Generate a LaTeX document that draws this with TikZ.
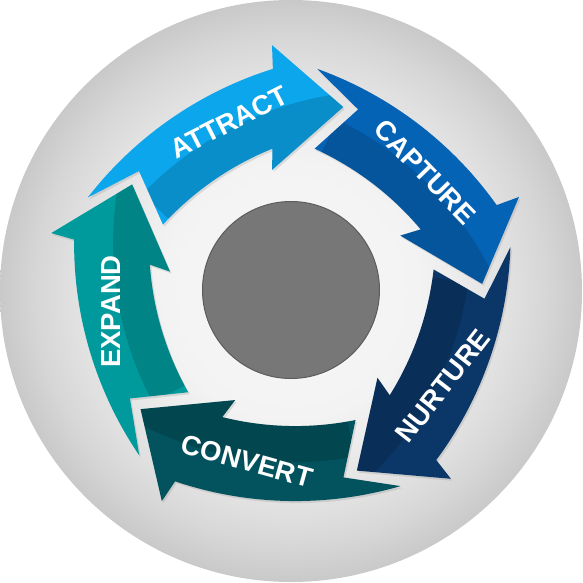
\documentclass[tikz,border=0pt]{standalone}
\usepackage{fontspec}
\setmainfont{Liberation Sans}
\usetikzlibrary{shadows}
\definecolor{cAttract}{HTML}{0BA6EC}
\definecolor{cCapture}{HTML}{0563B6}
\definecolor{cNurture}{HTML}{0B3768}
\definecolor{cConvert}{HTML}{03535E}
\definecolor{cExpand}{HTML}{009A9C}
\definecolor{cHub}{HTML}{777777}
\definecolor{cHubEdge}{HTML}{5C5C5C}
\definecolor{bgA}{HTML}{F8F8F8}
\definecolor{bgB}{HTML}{F3F3F3}
\definecolor{bgC}{HTML}{EAEAEA}
\definecolor{bgD}{HTML}{E0E0E0}
\definecolor{bgE}{HTML}{D6D6D6}
\definecolor{bgF}{HTML}{C9C9C9}
\pgfdeclareradialshading{bgshade}{\pgfpoint{0bp}{0bp}}{color(0bp)=(bgA); color(11bp)=(bgB); color(15bp)=(bgC); color(19bp)=(bgD); color(22bp)=(bgE); color(25bp)=(bgF); color(50bp)=(bgF)}
\newcommand{\cyclearrowshape}{(142.2:377) arc[start angle=142.2, end angle=107.4, radius=377] -- (106.5:400) -- (97.5:324.4) -- (113.7:282.5) -- (112:302) arc[start angle=112, end angle=137.5, radius=302] -- (133.75:356.6) -- cycle}
\tikzset{
  arrowbody/.style={fill=#1, drop shadow={shadow xshift=1.5pt, shadow yshift=-2pt, opacity=0.22}},
  steplabel/.style={text=white, inner sep=0pt, font=\fontsize{27.5}{27.5}\selectfont\bfseries},
  hub/.style={circle, fill=cHub, draw=cHubEdge, line width=1pt, minimum size=177pt, inner sep=0pt}
}
\begin{document}
\begin{tikzpicture}[x=1pt, y=1pt]
\useasboundingbox (-291,-292) rectangle (291,291);
\fill[white] (-291,-292) rectangle (291,291);
\shade[shading=bgshade] (0,0) circle (291);
\foreach \k/\c in {0/cAttract,1/cCapture,2/cNurture,3/cConvert,4/cExpand}{
  \begin{scope}[rotate=-72*\k, shift={(94.6,-137.6)}]
    \fill[arrowbody=\c] \cyclearrowshape;
    \begin{scope}
      \clip \cyclearrowshape;
      \fill[black, opacity=0.14] (0,0) -- (136:338) arc[start angle=136, end angle=90, radius=338] -- cycle;
    \end{scope}
  \end{scope}
}
\node[hub] (hubnode) at (0,1) {};
\node[steplabel, rotate=27] (attract) at (-62,169) {ATTRACT};
\node[steplabel, rotate=-46] (capture) at (134,119) {CAPTURE};
\node[steplabel, rotate=52] (nurture) at (152,-95) {NURTURE};
\node[steplabel, rotate=-15.5] (convert) at (-44,-170) {CONVERT};
\node[steplabel, rotate=90] (expand) at (-179.5,-20.5) {EXPAND};
\end{tikzpicture}
\end{document}
